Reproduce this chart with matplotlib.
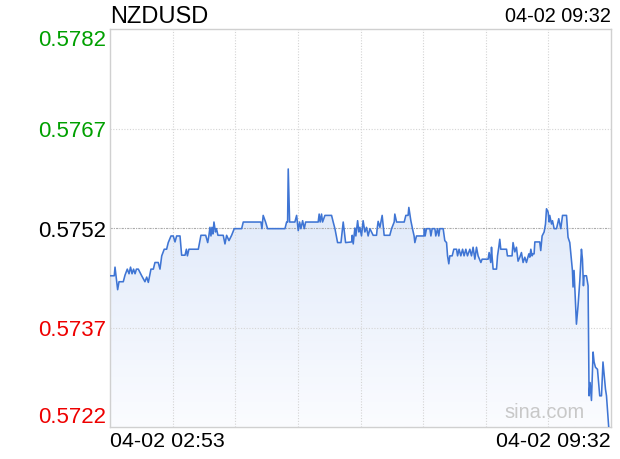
import numpy as np
import matplotlib
matplotlib.use("Agg")
import matplotlib.pyplot as plt
from matplotlib.colors import LinearSegmentedColormap

plt.rcParams['font.family'] = ['Liberation Sans', 'DejaVu Sans']

symbol = "NZDUSD"
start_label = "04-02 02:53"
end_label = "04-02 09:32"
prev_close = 0.5752
y_levels = [0.5722, 0.5737, 0.5752, 0.5767, 0.5782]
y_labels = ["0.5722", "0.5737", "0.5752", "0.5767", "0.5782"]

# minutes after 02:53 and the price at each vertex of the line
minutes = [
    0, 3.4, 4.0, 6.1, 7.2, 10.6, 12.0, 13.8, 15.2, 16.4, 17.6, 18.8, 20.0, 21.1, 22.6,
    25.3, 27.9, 29.3, 30.6, 32.7, 34.6, 35.9, 38.5, 39.9, 41.3, 43.3, 45.2, 46.5, 48.7,
    50.5, 51.9, 53.2, 55.9, 57.2, 59.9, 61.0, 61.8, 63.0,
    70.5, 72.6, 76.4, 78.0, 79.0, 79.8, 80.6, 81.4, 82.2, 83.0, 84.2, 85.0, 86.2, 90.4,
    91.8, 93.1, 95.0, 97.1, 99.2, 105.1, 106.4, 120.5, 121.3, 122.3, 124.2, 125.8,
    139.7, 141.0, 141.8, 142.3, 143.4, 147.6, 149.0, 150.3, 151.4, 152.4, 153.8, 155.1,
    156.2, 166.2, 167.0, 167.8, 168.9, 169.7, 171.6, 176.9, 178.2, 179.6, 181.7, 184.4,
    186.2, 188.1,
    192.9, 193.4, 194.2, 195.5, 196.3, 197.7, 198.7, 199.5, 200.8, 202.1, 203.5, 204.8,
    206.1, 207.5, 208.8, 210.1, 212.8, 213.3, 214.1, 215.5, 217.3, 218.9, 223.4, 224.8,
    226.9, 227.4, 228.8, 234.9, 236.2, 238.0, 238.6, 240.2, 241.5, 242.8, 243.4, 244.7,
    250.6, 251.0, 251.6, 252.7, 255.4, 256.2, 257.2, 259.4, 260.1, 261.5, 262.5, 263.3,
    266.0, 267.3, 268.7, 269.5, 270.5, 271.3, 273.2, 274.5, 276.7, 277.5, 278.7, 280.1,
    281.5, 282.7, 284.1, 285.4, 287.3, 288.6, 289.9, 291.3, 292.6, 293.9, 296.1, 297.1,
    301.9, 302.7, 304.0, 304.6, 305.1, 305.9, 308.6, 309.4, 310.4, 311.2, 312.0, 316.6,
    317.3, 321.0, 321.8, 323.2, 324.5, 325.8, 327.2, 328.5, 329.8, 331.2, 332.5, 334.4,
    335.2, 336.0, 337.0, 337.8, 338.6, 339.2, 343.1, 343.9, 345.0, 346.6, 347.7, 348.5,
    349.8, 350.6, 351.1, 352.5, 353.3, 354.6, 356.5, 358.3, 359.9, 361.3, 364.5, 365.7,
    367.1, 369.2, 369.7, 370.5, 371.9, 372.4, 373.7, 375.1, 376.4, 377.2, 378.0, 378.5,
    380.4, 381.7, 382.5, 383.3, 384.4, 385.7, 386.5, 387.6, 389.2, 391.0, 392.4, 393.6,
    395.6, 396.4, 398.2,
]
prices = [
    0.57448, 0.57448, 0.57461, 0.57427, 0.57439, 0.57439, 0.57449, 0.57458, 0.57451,
    0.57461, 0.57451, 0.57458, 0.57451, 0.57458, 0.57458, 0.57448, 0.57439, 0.57446,
    0.57438, 0.57458, 0.57458, 0.57468, 0.57468, 0.57458, 0.57478, 0.57488, 0.57488,
    0.57498, 0.57508, 0.57508, 0.57499, 0.57508, 0.57508, 0.57479, 0.57479, 0.57488,
    0.57478, 0.57488,
    0.57488, 0.57509, 0.57509, 0.57498, 0.57509, 0.57521, 0.57508, 0.57521, 0.57511,
    0.57529, 0.57514, 0.57519, 0.57509, 0.57509, 0.57496, 0.57509, 0.57501, 0.57509,
    0.57519, 0.57519, 0.57529, 0.57529, 0.57519, 0.57539, 0.57529, 0.57519,
    0.57519, 0.57529, 0.57529, 0.57609, 0.57529, 0.57529, 0.57539, 0.57516, 0.57529,
    0.57519, 0.57531, 0.57519, 0.57529, 0.57529, 0.57541, 0.57529, 0.57541, 0.57529,
    0.57539, 0.57539, 0.57529, 0.57519, 0.57498, 0.57498, 0.57529, 0.57498,
    0.57499, 0.57509, 0.57496, 0.57520, 0.57508, 0.57531, 0.57514, 0.57521, 0.57508,
    0.57531, 0.57514, 0.57521, 0.57508, 0.57519, 0.57514, 0.57509, 0.57509, 0.57519,
    0.57530, 0.57521, 0.57539, 0.57509, 0.57509, 0.57519, 0.57529, 0.57541, 0.57529,
    0.57529, 0.57539, 0.57539, 0.57551, 0.57531, 0.57519, 0.57508, 0.57498, 0.57508,
    0.57508, 0.57519, 0.57508, 0.57519, 0.57519, 0.57508, 0.57519, 0.57519, 0.57508,
    0.57519, 0.57508, 0.57519, 0.57519, 0.57501, 0.57498, 0.57478, 0.57466, 0.57478,
    0.57478, 0.57488, 0.57488, 0.57478, 0.57488, 0.57478, 0.57488, 0.57478, 0.57488,
    0.57478, 0.57488, 0.57478, 0.57491, 0.57473, 0.57491, 0.57478, 0.57468, 0.57473,
    0.57473, 0.57483, 0.57468, 0.57491, 0.57476, 0.57458, 0.57458, 0.57478, 0.57491,
    0.57503, 0.57488, 0.57488, 0.57478, 0.57478, 0.57498, 0.57484, 0.57491, 0.57470,
    0.57476, 0.57483, 0.57468, 0.57476, 0.57468, 0.57481, 0.57476, 0.57488, 0.57478,
    0.57481, 0.57481, 0.57499, 0.57499, 0.57486, 0.57508, 0.57514, 0.57526, 0.57549,
    0.57544, 0.57529, 0.57539, 0.57526, 0.57531, 0.57519, 0.57519, 0.57534, 0.57519,
    0.57539, 0.57539, 0.57506, 0.57498, 0.57456, 0.57431, 0.57456, 0.57398, 0.57375,
    0.57403, 0.57441, 0.57488, 0.57473, 0.57433, 0.57448, 0.57448, 0.57433, 0.57267,
    0.57287, 0.57260, 0.57333, 0.57318, 0.57310, 0.57307, 0.57267, 0.57267, 0.57318,
    0.57277, 0.57267, 0.57219,
]

x = np.array(minutes)
y = np.array(prices)
xmin, xmax = 0, 400
ymin, ymax = y_levels[0], y_levels[-1]

fig = plt.figure(figsize=(6.2, 4.6), dpi=100)
ax = fig.add_axes([110 / 620, 1 - 428 / 460, 501 / 620, 398 / 460])
ax.set_xlim(xmin, xmax)
ax.set_ylim(ymin, ymax)

# gradient fill under the line
cmap = LinearSegmentedColormap.from_list("fill", ["#fbfcff", "#dce7f9"])
grad = np.linspace(0, 1, 256).reshape(-1, 1)
im = ax.imshow(grad, cmap=cmap, aspect="auto", origin="lower",
               extent=[xmin, xmax, ymin, y.max()], zorder=1)
poly = ax.fill_between(x, y, ymin, color="none", lw=0)
im.set_clip_path(poly.get_paths()[0], transform=ax.transData)
ax.plot(x, y, color="#3f75d4", lw=1.15, zorder=3)

# grid
for gx in np.linspace(xmin, xmax, 9)[1:-1]:
    ax.axvline(gx, color="#d4d4d4", lw=0.8, ls=(0, (1, 1.5)), zorder=2)
for lv in y_levels[1:-1]:
    if lv == prev_close:
        ax.axhline(lv, color="#aaaaaa", lw=0.8, ls=(0, (2, 1, 1, 1)), zorder=2)
    else:
        ax.axhline(lv, color="#d4d4d4", lw=0.8, ls=(0, (1, 1.5)), zorder=2)

for s in ax.spines.values():
    s.set_color("#d0d0d0")
    s.set_linewidth(1.0)

ax.set_xticks([])
ax.set_yticks(y_levels)
ax.set_yticklabels(y_labels, fontsize=16)
ax.tick_params(axis="y", length=0, pad=3)
for lv, lab in zip(y_levels, ax.get_yticklabels()):
    if lv > prev_close:
        lab.set_color("#00a000")
    elif lv < prev_close:
        lab.set_color("#ee0000")
    else:
        lab.set_color("#000000")
labs = ax.get_yticklabels()
labs[0].set_va("bottom")
labs[-1].set_va("top")

fig.text(110 / 620, 1 - 17 / 460, symbol, fontsize=17, ha="left", va="center")
fig.text(611 / 620, 1 - 17 / 460, end_label, fontsize=14.3, ha="right", va="center")
fig.text(110 / 620, 1 - 442 / 460, start_label, fontsize=15.4, ha="left", va="center")
fig.text(611 / 620, 1 - 442 / 460, end_label, fontsize=15.4, ha="right", va="center")
ax.text(0.947, 0.04, "sina.com", transform=ax.transAxes, fontsize=14.4,
        color="#c8c8c8", ha="right", va="center", zorder=4)

fig.savefig("out.png", dpi=100)
